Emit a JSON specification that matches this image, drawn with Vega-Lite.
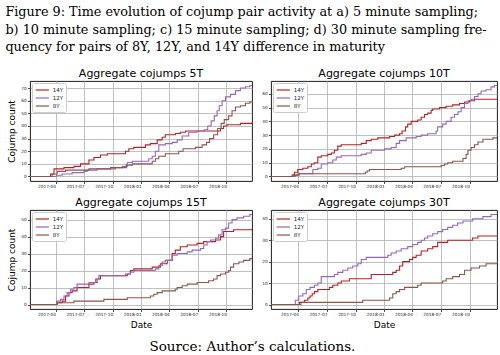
{
  "$schema": "https://vega.github.io/schema/vega-lite/v6.json",
  "background": "white",
  "padding": {"left": 5, "top": 6, "right": 0, "bottom": 0},
  "config": {
    "font": "DejaVu Sans",
    "view": {"stroke": "#000", "strokeWidth": 0.9},
    "axis": {"grid": true, "gridColor": "#b0b0b0", "gridWidth": 0.8, "domain": false, "tickColor": "#000", "tickSize": 2.5, "tickWidth": 0.7, "labelFontSize": 4.3, "labelColor": "#222", "labelPadding": 1.2, "labelFont": "DejaVu Sans", "titleFont": "DejaVu Sans", "titleFontWeight": "normal", "titleFontSize": 9, "titleColor": "#000"},
    "axisY": {"titlePadding": 4},
    "axisX": {"titlePadding": 3},
    "title": {"font": "DejaVu Sans", "fontSize": 11, "fontWeight": "normal", "offset": 2.5, "color": "#000"},
    "legend": {"orient": "top-left", "offset": 2, "padding": 2.5, "strokeColor": "#cccccc", "fillColor": "white", "cornerRadius": 2, "labelFontSize": 5.5, "labelFont": "DejaVu Sans", "labelColor": "#222", "symbolType": "M-1.9,0H1.9", "symbolSize": 49, "symbolStrokeWidth": 1.2, "symbolOffset": 3.3, "labelOffset": 6, "rowPadding": 0, "title": null}
  },
  "datasets": {
    "p5T": [
      {"series": "14Y", "date": "2017-01-09", "count": 0}, {"series": "14Y", "date": "2017-03-16", "count": 2}, {"series": "14Y", "date": "2017-03-27", "count": 6}, {"series": "14Y", "date": "2017-04-28", "count": 7}, {"series": "14Y", "date": "2017-05-30", "count": 8}, {"series": "14Y", "date": "2017-06-20", "count": 10}, {"series": "14Y", "date": "2017-07-17", "count": 13}, {"series": "14Y", "date": "2017-08-02", "count": 15}, {"series": "14Y", "date": "2017-08-23", "count": 17}, {"series": "14Y", "date": "2017-09-14", "count": 18}, {"series": "14Y", "date": "2017-11-11", "count": 20}, {"series": "14Y", "date": "2017-11-22", "count": 22}, {"series": "14Y", "date": "2017-12-08", "count": 23}, {"series": "14Y", "date": "2018-01-14", "count": 25}, {"series": "14Y", "date": "2018-01-30", "count": 26}, {"series": "14Y", "date": "2018-02-21", "count": 29}, {"series": "14Y", "date": "2018-03-09", "count": 31}, {"series": "14Y", "date": "2018-03-19", "count": 33}, {"series": "14Y", "date": "2018-04-20", "count": 34}, {"series": "14Y", "date": "2018-05-06", "count": 35}, {"series": "14Y", "date": "2018-05-23", "count": 36}, {"series": "14Y", "date": "2018-09-12", "count": 38}, {"series": "14Y", "date": "2018-09-22", "count": 40}, {"series": "14Y", "date": "2018-10-03", "count": 41}, {"series": "14Y", "date": "2018-11-15", "count": 42}, {"series": "14Y", "date": "2018-12-22", "count": 42},
      {"series": "12Y", "date": "2017-01-09", "count": 0}, {"series": "12Y", "date": "2017-04-04", "count": 1}, {"series": "12Y", "date": "2017-04-22", "count": 2}, {"series": "12Y", "date": "2017-05-24", "count": 3}, {"series": "12Y", "date": "2017-07-01", "count": 4}, {"series": "12Y", "date": "2017-07-11", "count": 5}, {"series": "12Y", "date": "2017-08-12", "count": 6}, {"series": "12Y", "date": "2017-10-10", "count": 7}, {"series": "12Y", "date": "2017-11-01", "count": 8}, {"series": "12Y", "date": "2017-11-17", "count": 11}, {"series": "12Y", "date": "2017-12-03", "count": 12}, {"series": "12Y", "date": "2018-01-25", "count": 14}, {"series": "12Y", "date": "2018-02-05", "count": 16}, {"series": "12Y", "date": "2018-02-15", "count": 20}, {"series": "12Y", "date": "2018-02-26", "count": 25}, {"series": "12Y", "date": "2018-03-19", "count": 26}, {"series": "12Y", "date": "2018-04-10", "count": 27}, {"series": "12Y", "date": "2018-04-26", "count": 29}, {"series": "12Y", "date": "2018-05-12", "count": 32}, {"series": "12Y", "date": "2018-06-02", "count": 35}, {"series": "12Y", "date": "2018-06-29", "count": 36}, {"series": "12Y", "date": "2018-07-22", "count": 37}, {"series": "12Y", "date": "2018-08-02", "count": 40}, {"series": "12Y", "date": "2018-08-13", "count": 44}, {"series": "12Y", "date": "2018-08-23", "count": 48}, {"series": "12Y", "date": "2018-09-01", "count": 52}, {"series": "12Y", "date": "2018-09-08", "count": 56}, {"series": "12Y", "date": "2018-09-17", "count": 60}, {"series": "12Y", "date": "2018-09-28", "count": 63}, {"series": "12Y", "date": "2018-10-14", "count": 65}, {"series": "12Y", "date": "2018-10-30", "count": 68}, {"series": "12Y", "date": "2018-11-15", "count": 70}, {"series": "12Y", "date": "2018-12-01", "count": 71}, {"series": "12Y", "date": "2018-12-15", "count": 72}, {"series": "12Y", "date": "2018-12-22", "count": 72},
      {"series": "8Y", "date": "2017-01-09", "count": 0}, {"series": "8Y", "date": "2017-03-21", "count": 2}, {"series": "8Y", "date": "2017-04-06", "count": 4}, {"series": "8Y", "date": "2017-05-03", "count": 5}, {"series": "8Y", "date": "2017-07-17", "count": 6}, {"series": "8Y", "date": "2017-09-24", "count": 7}, {"series": "8Y", "date": "2017-11-14", "count": 9}, {"series": "8Y", "date": "2017-12-03", "count": 10}, {"series": "8Y", "date": "2018-02-05", "count": 12}, {"series": "8Y", "date": "2018-02-15", "count": 14}, {"series": "8Y", "date": "2018-02-26", "count": 16}, {"series": "8Y", "date": "2018-03-19", "count": 18}, {"series": "8Y", "date": "2018-05-01", "count": 20}, {"series": "8Y", "date": "2018-05-15", "count": 22}, {"series": "8Y", "date": "2018-06-24", "count": 23}, {"series": "8Y", "date": "2018-07-15", "count": 25}, {"series": "8Y", "date": "2018-07-29", "count": 27}, {"series": "8Y", "date": "2018-08-08", "count": 30}, {"series": "8Y", "date": "2018-08-21", "count": 33}, {"series": "8Y", "date": "2018-09-03", "count": 38}, {"series": "8Y", "date": "2018-09-14", "count": 42}, {"series": "8Y", "date": "2018-09-24", "count": 45}, {"series": "8Y", "date": "2018-10-08", "count": 48}, {"series": "8Y", "date": "2018-10-19", "count": 52}, {"series": "8Y", "date": "2018-10-30", "count": 55}, {"series": "8Y", "date": "2018-11-15", "count": 56}, {"series": "8Y", "date": "2018-12-01", "count": 58}, {"series": "8Y", "date": "2018-12-15", "count": 59}, {"series": "8Y", "date": "2018-12-22", "count": 59}
    ],
    "p10T": [
      {"series": "14Y", "date": "2017-01-03", "count": 0}, {"series": "14Y", "date": "2017-03-12", "count": 1}, {"series": "14Y", "date": "2017-03-19", "count": 3}, {"series": "14Y", "date": "2017-03-30", "count": 5}, {"series": "14Y", "date": "2017-04-15", "count": 6}, {"series": "14Y", "date": "2017-05-01", "count": 7}, {"series": "14Y", "date": "2017-05-12", "count": 9}, {"series": "14Y", "date": "2017-05-22", "count": 10}, {"series": "14Y", "date": "2017-06-02", "count": 14}, {"series": "14Y", "date": "2017-06-13", "count": 15}, {"series": "14Y", "date": "2017-07-04", "count": 16}, {"series": "14Y", "date": "2017-07-15", "count": 17}, {"series": "14Y", "date": "2017-07-25", "count": 19}, {"series": "14Y", "date": "2017-08-05", "count": 22}, {"series": "14Y", "date": "2017-08-16", "count": 23}, {"series": "14Y", "date": "2017-10-19", "count": 24}, {"series": "14Y", "date": "2017-11-04", "count": 26}, {"series": "14Y", "date": "2017-11-20", "count": 27}, {"series": "14Y", "date": "2017-12-11", "count": 28}, {"series": "14Y", "date": "2018-01-18", "count": 29}, {"series": "14Y", "date": "2018-02-03", "count": 30}, {"series": "14Y", "date": "2018-02-19", "count": 31}, {"series": "14Y", "date": "2018-02-27", "count": 33}, {"series": "14Y", "date": "2018-03-10", "count": 36}, {"series": "14Y", "date": "2018-03-17", "count": 38}, {"series": "14Y", "date": "2018-03-28", "count": 40}, {"series": "14Y", "date": "2018-04-18", "count": 41}, {"series": "14Y", "date": "2018-04-29", "count": 43}, {"series": "14Y", "date": "2018-05-10", "count": 45}, {"series": "14Y", "date": "2018-05-20", "count": 46}, {"series": "14Y", "date": "2018-05-31", "count": 48}, {"series": "14Y", "date": "2018-06-05", "count": 49}, {"series": "14Y", "date": "2018-06-27", "count": 50}, {"series": "14Y", "date": "2018-07-18", "count": 51}, {"series": "14Y", "date": "2018-08-08", "count": 52}, {"series": "14Y", "date": "2018-08-30", "count": 53}, {"series": "14Y", "date": "2018-09-15", "count": 54}, {"series": "14Y", "date": "2018-10-01", "count": 55}, {"series": "14Y", "date": "2018-10-17", "count": 56}, {"series": "14Y", "date": "2018-12-28", "count": 56},
      {"series": "12Y", "date": "2017-01-03", "count": 0}, {"series": "12Y", "date": "2017-03-22", "count": 1}, {"series": "12Y", "date": "2017-04-04", "count": 2}, {"series": "12Y", "date": "2017-05-17", "count": 5}, {"series": "12Y", "date": "2017-06-02", "count": 6}, {"series": "12Y", "date": "2017-06-13", "count": 9}, {"series": "12Y", "date": "2017-07-04", "count": 10}, {"series": "12Y", "date": "2017-07-20", "count": 12}, {"series": "12Y", "date": "2017-07-31", "count": 14}, {"series": "12Y", "date": "2017-08-16", "count": 15}, {"series": "12Y", "date": "2017-10-19", "count": 16}, {"series": "12Y", "date": "2017-11-04", "count": 17}, {"series": "12Y", "date": "2017-11-20", "count": 19}, {"series": "12Y", "date": "2018-01-02", "count": 20}, {"series": "12Y", "date": "2018-01-23", "count": 21}, {"series": "12Y", "date": "2018-02-08", "count": 24}, {"series": "12Y", "date": "2018-02-19", "count": 26}, {"series": "12Y", "date": "2018-03-12", "count": 28}, {"series": "12Y", "date": "2018-04-13", "count": 29}, {"series": "12Y", "date": "2018-04-29", "count": 30}, {"series": "12Y", "date": "2018-05-20", "count": 31}, {"series": "12Y", "date": "2018-06-16", "count": 33}, {"series": "12Y", "date": "2018-06-21", "count": 36}, {"series": "12Y", "date": "2018-07-07", "count": 38}, {"series": "12Y", "date": "2018-07-18", "count": 40}, {"series": "12Y", "date": "2018-08-03", "count": 43}, {"series": "12Y", "date": "2018-08-14", "count": 45}, {"series": "12Y", "date": "2018-08-25", "count": 47}, {"series": "12Y", "date": "2018-09-04", "count": 50}, {"series": "12Y", "date": "2018-09-15", "count": 53}, {"series": "12Y", "date": "2018-09-26", "count": 55}, {"series": "12Y", "date": "2018-10-06", "count": 56}, {"series": "12Y", "date": "2018-10-17", "count": 58}, {"series": "12Y", "date": "2018-10-28", "count": 60}, {"series": "12Y", "date": "2018-11-07", "count": 62}, {"series": "12Y", "date": "2018-11-23", "count": 63}, {"series": "12Y", "date": "2018-12-09", "count": 65}, {"series": "12Y", "date": "2018-12-20", "count": 66}, {"series": "12Y", "date": "2018-12-28", "count": 66},
      {"series": "8Y", "date": "2017-01-03", "count": 0}, {"series": "8Y", "date": "2017-03-14", "count": 1}, {"series": "8Y", "date": "2017-03-30", "count": 2}, {"series": "8Y", "date": "2017-11-01", "count": 3}, {"series": "8Y", "date": "2017-11-07", "count": 4}, {"series": "8Y", "date": "2017-11-14", "count": 5}, {"series": "8Y", "date": "2018-02-24", "count": 6}, {"series": "8Y", "date": "2018-03-07", "count": 7}, {"series": "8Y", "date": "2018-07-02", "count": 8}, {"series": "8Y", "date": "2018-07-13", "count": 9}, {"series": "8Y", "date": "2018-07-23", "count": 10}, {"series": "8Y", "date": "2018-08-08", "count": 11}, {"series": "8Y", "date": "2018-09-10", "count": 13}, {"series": "8Y", "date": "2018-09-20", "count": 16}, {"series": "8Y", "date": "2018-09-26", "count": 19}, {"series": "8Y", "date": "2018-10-06", "count": 21}, {"series": "8Y", "date": "2018-10-17", "count": 23}, {"series": "8Y", "date": "2018-10-28", "count": 25}, {"series": "8Y", "date": "2018-11-13", "count": 27}, {"series": "8Y", "date": "2018-12-15", "count": 28}, {"series": "8Y", "date": "2018-12-28", "count": 28}
    ],
    "p15T": [
      {"series": "14Y", "date": "2017-01-09", "count": 0}, {"series": "14Y", "date": "2017-04-06", "count": 1}, {"series": "14Y", "date": "2017-04-22", "count": 2}, {"series": "14Y", "date": "2017-05-03", "count": 5}, {"series": "14Y", "date": "2017-05-14", "count": 7}, {"series": "14Y", "date": "2017-05-24", "count": 8}, {"series": "14Y", "date": "2017-06-09", "count": 10}, {"series": "14Y", "date": "2017-07-17", "count": 12}, {"series": "14Y", "date": "2017-08-02", "count": 13}, {"series": "14Y", "date": "2017-08-12", "count": 15}, {"series": "14Y", "date": "2017-08-23", "count": 17}, {"series": "14Y", "date": "2017-11-17", "count": 18}, {"series": "14Y", "date": "2017-11-27", "count": 20}, {"series": "14Y", "date": "2017-12-08", "count": 21}, {"series": "14Y", "date": "2018-02-05", "count": 22}, {"series": "14Y", "date": "2018-03-03", "count": 24}, {"series": "14Y", "date": "2018-03-25", "count": 26}, {"series": "14Y", "date": "2018-04-10", "count": 30}, {"series": "14Y", "date": "2018-04-20", "count": 32}, {"series": "14Y", "date": "2018-05-06", "count": 34}, {"series": "14Y", "date": "2018-05-28", "count": 35}, {"series": "14Y", "date": "2018-06-29", "count": 36}, {"series": "14Y", "date": "2018-07-20", "count": 37}, {"series": "14Y", "date": "2018-08-27", "count": 38}, {"series": "14Y", "date": "2018-09-12", "count": 40}, {"series": "14Y", "date": "2018-09-22", "count": 43}, {"series": "14Y", "date": "2018-10-24", "count": 44}, {"series": "14Y", "date": "2018-12-22", "count": 44},
      {"series": "12Y", "date": "2017-01-09", "count": 0}, {"series": "12Y", "date": "2017-04-04", "count": 2}, {"series": "12Y", "date": "2017-04-17", "count": 3}, {"series": "12Y", "date": "2017-04-28", "count": 5}, {"series": "12Y", "date": "2017-05-08", "count": 7}, {"series": "12Y", "date": "2017-05-19", "count": 9}, {"series": "12Y", "date": "2017-05-30", "count": 10}, {"series": "12Y", "date": "2017-06-09", "count": 12}, {"series": "12Y", "date": "2017-07-17", "count": 13}, {"series": "12Y", "date": "2017-08-07", "count": 15}, {"series": "12Y", "date": "2017-08-18", "count": 17}, {"series": "12Y", "date": "2017-11-11", "count": 18}, {"series": "12Y", "date": "2017-11-27", "count": 19}, {"series": "12Y", "date": "2017-12-08", "count": 20}, {"series": "12Y", "date": "2018-02-15", "count": 21}, {"series": "12Y", "date": "2018-02-26", "count": 23}, {"series": "12Y", "date": "2018-03-09", "count": 25}, {"series": "12Y", "date": "2018-03-19", "count": 26}, {"series": "12Y", "date": "2018-04-10", "count": 29}, {"series": "12Y", "date": "2018-04-26", "count": 30}, {"series": "12Y", "date": "2018-05-28", "count": 31}, {"series": "12Y", "date": "2018-06-13", "count": 32}, {"series": "12Y", "date": "2018-07-10", "count": 33}, {"series": "12Y", "date": "2018-07-20", "count": 35}, {"series": "12Y", "date": "2018-07-31", "count": 37}, {"series": "12Y", "date": "2018-08-11", "count": 38}, {"series": "12Y", "date": "2018-08-27", "count": 39}, {"series": "12Y", "date": "2018-09-06", "count": 41}, {"series": "12Y", "date": "2018-09-17", "count": 44}, {"series": "12Y", "date": "2018-09-28", "count": 45}, {"series": "12Y", "date": "2018-10-08", "count": 48}, {"series": "12Y", "date": "2018-10-19", "count": 50}, {"series": "12Y", "date": "2018-11-04", "count": 51}, {"series": "12Y", "date": "2018-11-25", "count": 52}, {"series": "12Y", "date": "2018-12-15", "count": 53}, {"series": "12Y", "date": "2018-12-22", "count": 53},
      {"series": "8Y", "date": "2017-01-09", "count": 0}, {"series": "8Y", "date": "2017-04-06", "count": 1}, {"series": "8Y", "date": "2017-05-30", "count": 2}, {"series": "8Y", "date": "2017-09-03", "count": 3}, {"series": "8Y", "date": "2017-11-17", "count": 4}, {"series": "8Y", "date": "2018-01-30", "count": 5}, {"series": "8Y", "date": "2018-02-10", "count": 6}, {"series": "8Y", "date": "2018-02-21", "count": 7}, {"series": "8Y", "date": "2018-03-09", "count": 8}, {"series": "8Y", "date": "2018-04-20", "count": 9}, {"series": "8Y", "date": "2018-04-26", "count": 10}, {"series": "8Y", "date": "2018-05-12", "count": 11}, {"series": "8Y", "date": "2018-05-28", "count": 12}, {"series": "8Y", "date": "2018-06-29", "count": 13}, {"series": "8Y", "date": "2018-08-05", "count": 14}, {"series": "8Y", "date": "2018-08-21", "count": 15}, {"series": "8Y", "date": "2018-09-01", "count": 17}, {"series": "8Y", "date": "2018-09-12", "count": 18}, {"series": "8Y", "date": "2018-09-28", "count": 19}, {"series": "8Y", "date": "2018-10-08", "count": 20}, {"series": "8Y", "date": "2018-10-14", "count": 22}, {"series": "8Y", "date": "2018-10-24", "count": 24}, {"series": "8Y", "date": "2018-11-10", "count": 25}, {"series": "8Y", "date": "2018-11-25", "count": 26}, {"series": "8Y", "date": "2018-12-15", "count": 27}, {"series": "8Y", "date": "2018-12-22", "count": 27}
    ],
    "p30T": [
      {"series": "14Y", "date": "2017-01-03", "count": 0}, {"series": "14Y", "date": "2017-04-04", "count": 1}, {"series": "14Y", "date": "2017-04-20", "count": 2}, {"series": "14Y", "date": "2017-05-01", "count": 3}, {"series": "14Y", "date": "2017-05-08", "count": 4}, {"series": "14Y", "date": "2017-05-15", "count": 5}, {"series": "14Y", "date": "2017-05-22", "count": 6}, {"series": "14Y", "date": "2017-06-02", "count": 7}, {"series": "14Y", "date": "2017-07-09", "count": 8}, {"series": "14Y", "date": "2017-07-20", "count": 9}, {"series": "14Y", "date": "2017-08-05", "count": 10}, {"series": "14Y", "date": "2017-08-16", "count": 11}, {"series": "14Y", "date": "2017-09-11", "count": 12}, {"series": "14Y", "date": "2017-11-20", "count": 14}, {"series": "14Y", "date": "2018-01-28", "count": 15}, {"series": "14Y", "date": "2018-02-08", "count": 16}, {"series": "14Y", "date": "2018-02-19", "count": 18}, {"series": "14Y", "date": "2018-03-01", "count": 20}, {"series": "14Y", "date": "2018-03-23", "count": 21}, {"series": "14Y", "date": "2018-04-02", "count": 22}, {"series": "14Y", "date": "2018-04-13", "count": 23}, {"series": "14Y", "date": "2018-04-29", "count": 25}, {"series": "14Y", "date": "2018-05-20", "count": 26}, {"series": "14Y", "date": "2018-06-05", "count": 27}, {"series": "14Y", "date": "2018-06-21", "count": 29}, {"series": "14Y", "date": "2018-07-23", "count": 30}, {"series": "14Y", "date": "2018-10-11", "count": 31}, {"series": "14Y", "date": "2018-10-28", "count": 32}, {"series": "14Y", "date": "2018-12-28", "count": 32},
      {"series": "12Y", "date": "2017-01-03", "count": 0}, {"series": "12Y", "date": "2017-03-22", "count": 2}, {"series": "12Y", "date": "2017-04-02", "count": 4}, {"series": "12Y", "date": "2017-04-15", "count": 5}, {"series": "12Y", "date": "2017-04-26", "count": 7}, {"series": "12Y", "date": "2017-05-08", "count": 8}, {"series": "12Y", "date": "2017-05-22", "count": 9}, {"series": "12Y", "date": "2017-06-02", "count": 10}, {"series": "12Y", "date": "2017-06-13", "count": 13}, {"series": "12Y", "date": "2017-07-25", "count": 14}, {"series": "12Y", "date": "2017-08-05", "count": 15}, {"series": "12Y", "date": "2017-08-21", "count": 16}, {"series": "12Y", "date": "2017-09-06", "count": 17}, {"series": "12Y", "date": "2017-09-22", "count": 18}, {"series": "12Y", "date": "2017-10-08", "count": 19}, {"series": "12Y", "date": "2017-10-19", "count": 21}, {"series": "12Y", "date": "2017-11-04", "count": 22}, {"series": "12Y", "date": "2018-01-12", "count": 23}, {"series": "12Y", "date": "2018-01-23", "count": 24}, {"series": "12Y", "date": "2018-02-08", "count": 25}, {"series": "12Y", "date": "2018-02-24", "count": 26}, {"series": "12Y", "date": "2018-03-17", "count": 27}, {"series": "12Y", "date": "2018-04-02", "count": 28}, {"series": "12Y", "date": "2018-04-18", "count": 29}, {"series": "12Y", "date": "2018-04-29", "count": 30}, {"series": "12Y", "date": "2018-05-10", "count": 31}, {"series": "12Y", "date": "2018-05-20", "count": 32}, {"series": "12Y", "date": "2018-06-05", "count": 33}, {"series": "12Y", "date": "2018-06-21", "count": 34}, {"series": "12Y", "date": "2018-07-07", "count": 35}, {"series": "12Y", "date": "2018-07-23", "count": 36}, {"series": "12Y", "date": "2018-08-08", "count": 37}, {"series": "12Y", "date": "2018-08-24", "count": 38}, {"series": "12Y", "date": "2018-09-10", "count": 39}, {"series": "12Y", "date": "2018-10-11", "count": 40}, {"series": "12Y", "date": "2018-11-13", "count": 41}, {"series": "12Y", "date": "2018-12-09", "count": 42}, {"series": "12Y", "date": "2018-12-28", "count": 42},
      {"series": "8Y", "date": "2017-01-03", "count": 0}, {"series": "8Y", "date": "2017-04-09", "count": 1}, {"series": "8Y", "date": "2017-10-24", "count": 2}, {"series": "8Y", "date": "2018-01-18", "count": 3}, {"series": "8Y", "date": "2018-01-28", "count": 5}, {"series": "8Y", "date": "2018-02-08", "count": 6}, {"series": "8Y", "date": "2018-02-19", "count": 7}, {"series": "8Y", "date": "2018-03-07", "count": 8}, {"series": "8Y", "date": "2018-04-18", "count": 9}, {"series": "8Y", "date": "2018-04-29", "count": 10}, {"series": "8Y", "date": "2018-07-07", "count": 11}, {"series": "8Y", "date": "2018-07-18", "count": 12}, {"series": "8Y", "date": "2018-08-08", "count": 13}, {"series": "8Y", "date": "2018-08-30", "count": 14}, {"series": "8Y", "date": "2018-09-15", "count": 16}, {"series": "8Y", "date": "2018-10-06", "count": 17}, {"series": "8Y", "date": "2018-11-02", "count": 18}, {"series": "8Y", "date": "2018-11-23", "count": 19}, {"series": "8Y", "date": "2018-12-28", "count": 19}
    ]
  },
  "title": {"text": ["Figure 9: Time evolution of cojump pair activity at a) 5 minute sampling;", "b) 10 minute sampling; c) 15 minute sampling; d) 30 minute sampling fre-", "quency for pairs of 8Y, 12Y, and 14Y difference in maturity"], "anchor": "start", "frame": "bounds", "font": "DejaVu Serif", "fontSize": 12.8, "fontWeight": "normal", "lineHeight": 17.5, "offset": 13, "dx": -2, "color": "#000"},
  "resolve": {"scale": {"color": "independent"}, "legend": {"color": "independent"}},
  "vconcat": [
    {
      "title": {"text": "Source: Author’s calculations.", "orient": "bottom", "anchor": "middle", "frame": "bounds", "font": "DejaVu Serif", "fontSize": 13.5, "fontWeight": "normal", "offset": 11, "color": "#000"},
      "spacing": 6,
      "resolve": {"scale": {"color": "independent"}, "legend": {"color": "independent"}},
      "vconcat": [
        {
          "spacing": 8,
          "resolve": {"scale": {"color": "independent"}, "legend": {"color": "independent"}},
          "hconcat": [
            {
              "width": 222, "height": 100,
              "title": "Aggregate cojumps 5T",
              "data": {"name": "p5T"},
              "mark": {"type": "line", "interpolate": "step-after", "strokeWidth": 1.1, "clip": true},
              "encoding": {
                "x": {"field": "date", "type": "temporal", "scale": {"domain": [{"year": 2017, "month": 1, "date": 9}, {"year": 2018, "month": 12, "date": 22}], "nice": false}, "axis": {"title": null, "format": "%Y-%m", "labelAlign": "right", "values": [{"year": 2017, "month": 4, "date": 1}, {"year": 2017, "month": 7, "date": 1}, {"year": 2017, "month": 10, "date": 1}, {"year": 2018, "month": 1, "date": 1}, {"year": 2018, "month": 4, "date": 1}, {"year": 2018, "month": 7, "date": 1}, {"year": 2018, "month": 10, "date": 1}]}},
                "y": {"field": "count", "type": "quantitative", "scale": {"domain": [-3.6, 75.6], "nice": false, "zero": false}, "axis": {"title": "Cojump count", "values": [0, 10, 20, 30, 40, 50, 60, 70]}},
                "color": {"field": "series", "type": "nominal", "sort": ["14Y", "12Y", "8Y"], "scale": {"domain": ["14Y", "12Y", "8Y"], "range": ["#b22222", "#9467bd", "#8c564b"]}}
              }
            },
            {
              "width": 226, "height": 100,
              "title": "Aggregate cojumps 10T",
              "data": {"name": "p10T"},
              "mark": {"type": "line", "interpolate": "step-after", "strokeWidth": 1.1, "clip": true},
              "encoding": {
                "x": {"field": "date", "type": "temporal", "scale": {"domain": [{"year": 2017, "month": 1, "date": 3}, {"year": 2018, "month": 12, "date": 28}], "nice": false}, "axis": {"title": null, "format": "%Y-%m", "labelAlign": "right", "values": [{"year": 2017, "month": 4, "date": 1}, {"year": 2017, "month": 7, "date": 1}, {"year": 2017, "month": 10, "date": 1}, {"year": 2018, "month": 1, "date": 1}, {"year": 2018, "month": 4, "date": 1}, {"year": 2018, "month": 7, "date": 1}, {"year": 2018, "month": 10, "date": 1}]}},
                "y": {"field": "count", "type": "quantitative", "scale": {"domain": [-3.3, 69.3], "nice": false, "zero": false}, "axis": {"title": null, "values": [0, 10, 20, 30, 40, 50, 60]}},
                "color": {"field": "series", "type": "nominal", "sort": ["14Y", "12Y", "8Y"], "scale": {"domain": ["14Y", "12Y", "8Y"], "range": ["#b22222", "#9467bd", "#8c564b"]}}
              }
            }
          ]
        },
        {
          "spacing": 8,
          "resolve": {"scale": {"color": "independent"}, "legend": {"color": "independent"}},
          "hconcat": [
            {
              "width": 222, "height": 99,
              "title": "Aggregate cojumps 15T",
              "data": {"name": "p15T"},
              "mark": {"type": "line", "interpolate": "step-after", "strokeWidth": 1.1, "clip": true},
              "encoding": {
                "x": {"field": "date", "type": "temporal", "scale": {"domain": [{"year": 2017, "month": 1, "date": 9}, {"year": 2018, "month": 12, "date": 22}], "nice": false}, "axis": {"title": "Date", "format": "%Y-%m", "labelAlign": "right", "values": [{"year": 2017, "month": 4, "date": 1}, {"year": 2017, "month": 7, "date": 1}, {"year": 2017, "month": 10, "date": 1}, {"year": 2018, "month": 1, "date": 1}, {"year": 2018, "month": 4, "date": 1}, {"year": 2018, "month": 7, "date": 1}, {"year": 2018, "month": 10, "date": 1}]}},
                "y": {"field": "count", "type": "quantitative", "scale": {"domain": [-2.65, 55.65], "nice": false, "zero": false}, "axis": {"title": "Cojump count", "values": [0, 10, 20, 30, 40, 50]}},
                "color": {"field": "series", "type": "nominal", "sort": ["14Y", "12Y", "8Y"], "scale": {"domain": ["14Y", "12Y", "8Y"], "range": ["#b22222", "#9467bd", "#8c564b"]}}
              }
            },
            {
              "width": 226, "height": 99,
              "title": "Aggregate cojumps 30T",
              "data": {"name": "p30T"},
              "mark": {"type": "line", "interpolate": "step-after", "strokeWidth": 1.1, "clip": true},
              "encoding": {
                "x": {"field": "date", "type": "temporal", "scale": {"domain": [{"year": 2017, "month": 1, "date": 3}, {"year": 2018, "month": 12, "date": 28}], "nice": false}, "axis": {"title": "Date", "format": "%Y-%m", "labelAlign": "right", "values": [{"year": 2017, "month": 4, "date": 1}, {"year": 2017, "month": 7, "date": 1}, {"year": 2017, "month": 10, "date": 1}, {"year": 2018, "month": 1, "date": 1}, {"year": 2018, "month": 4, "date": 1}, {"year": 2018, "month": 7, "date": 1}, {"year": 2018, "month": 10, "date": 1}]}},
                "y": {"field": "count", "type": "quantitative", "scale": {"domain": [-2.1, 44.1], "nice": false, "zero": false}, "axis": {"title": null, "values": [0, 10, 20, 30, 40]}},
                "color": {"field": "series", "type": "nominal", "sort": ["14Y", "12Y", "8Y"], "scale": {"domain": ["14Y", "12Y", "8Y"], "range": ["#b22222", "#9467bd", "#8c564b"]}}
              }
            }
          ]
        }
      ]
    }
  ]
}
